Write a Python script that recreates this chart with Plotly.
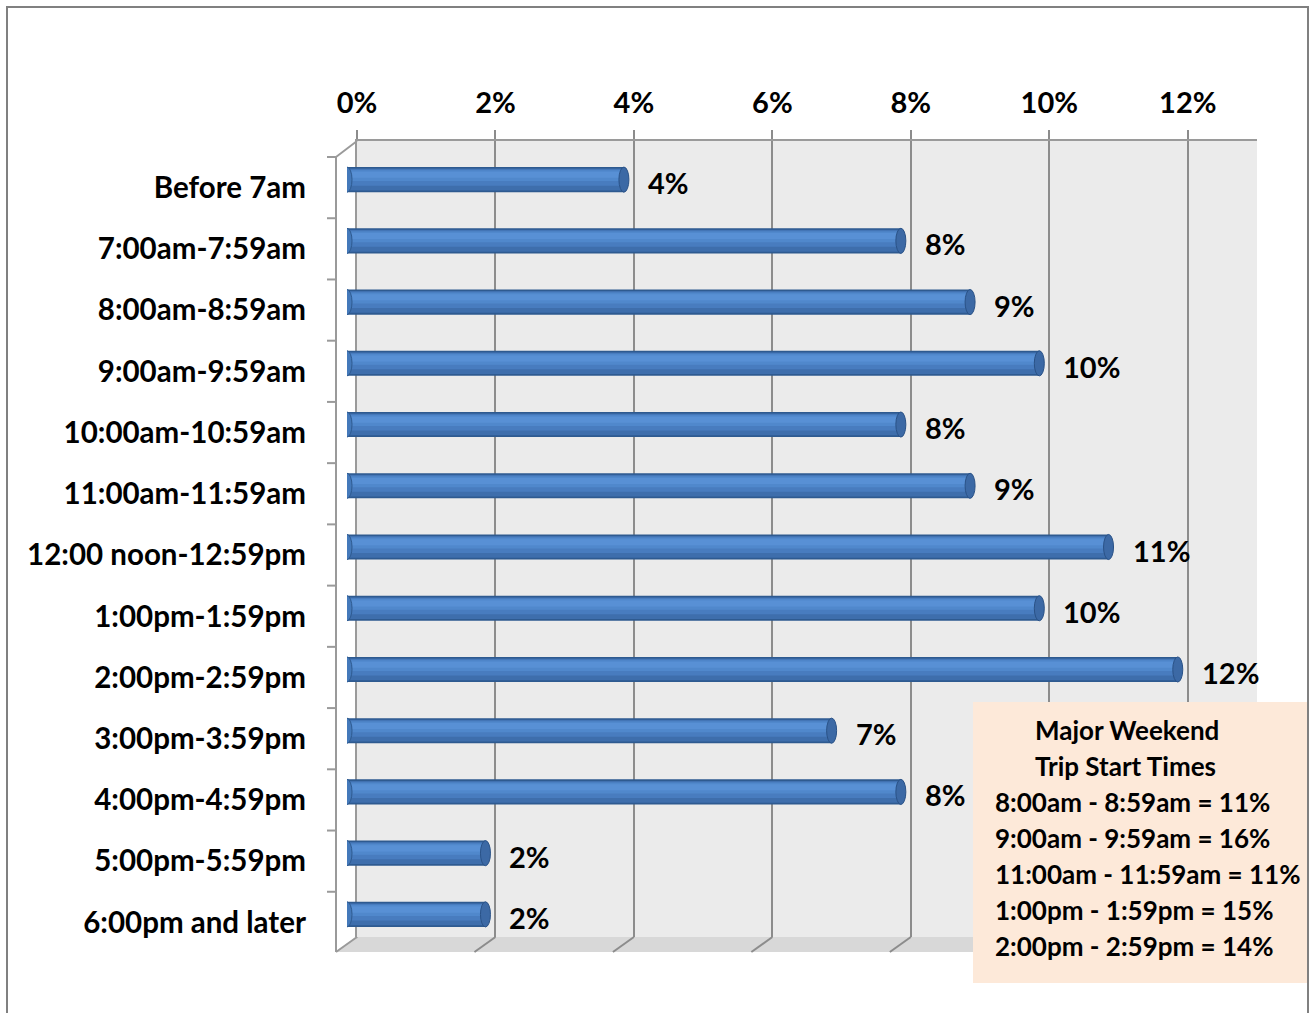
import plotly.graph_objects as go

# ---- data -------------------------------------------------------------
categories = [
    "Before 7am", "7:00am-7:59am", "8:00am-8:59am", "9:00am-9:59am",
    "10:00am-10:59am", "11:00am-11:59am", "12:00 noon-12:59pm",
    "1:00pm-1:59pm", "2:00pm-2:59pm", "3:00pm-3:59pm", "4:00pm-4:59pm",
    "5:00pm-5:59pm", "6:00pm and later",
]
shares = [4, 8, 9, 10, 8, 9, 11, 10, 12, 7, 8, 2, 2]
tick_values = [0, 2, 4, 6, 8, 10, 12]

note_title = ["Major Weekend", "Trip Start Times"]
note_lines = [
    "8:00am - 8:59am = 11%",
    "9:00am - 9:59am = 16%",
    "11:00am - 11:59am = 11%",
    "1:00pm - 1:59pm = 15%",
    "2:00pm - 2:59pm = 14%",
]

# ---- canvas geometry (pixels) ------------------------------------------
W, H = 1312, 1013
X_MAX = 13


def px(x):
    return x / W


def py(y):
    return 1 - y / H


# back wall, bar plane (mid depth) and front face of the 3-D box
BACK = dict(x0=357, x1=1257, y0=141, y1=937)
MID = dict(x0=347, x1=1247, y0=149, y1=945)
FRONT = dict(x0=336, x1=1236, y0=157, y1=952)
DX = FRONT["x0"] - BACK["x0"]
DY_FRONT = FRONT["y0"] - MID["y0"]

FONT = "Lato, Carlito, Calibri, sans-serif"
GRID = "#8C8C8C"
EDGE = "#9A9A9A"

fig = go.Figure()

# cylinder body built from overlapping bands, dark rim to light highlight
BAR_W = 0.41
bands = [
    (0.00, 1.00, "#2E5A90"),
    (0.06, 0.93, "#3E6EAC"),
    (0.09, 0.74, "#487CBF"),
    (0.13, 0.56, "#5088CC"),
    (0.19, 0.43, "#5890D5"),
]
for top, bot, col in bands:
    fig.add_trace(go.Bar(
        x=shares, y=categories, orientation="h",
        width=BAR_W * (bot - top), offset=-BAR_W / 2 + BAR_W * top,
        marker=dict(color=col, line=dict(width=0)),
        xaxis="x2", yaxis="y2", showlegend=False, hoverinfo="skip",
    ))

shapes = []
annotations = []

# back wall, floor
shapes.append(dict(type="rect", xref="paper", yref="paper", layer="below",
                   x0=px(BACK["x0"]), x1=px(BACK["x1"]),
                   y0=py(BACK["y1"]), y1=py(BACK["y0"]),
                   fillcolor="#EBEBEB", line=dict(width=0)))
shapes.append(dict(type="path", xref="paper", yref="paper", layer="below",
                   path=(f"M{px(BACK['x0'])},{py(BACK['y1'])} "
                         f"L{px(BACK['x1'])},{py(BACK['y1'])} "
                         f"L{px(FRONT['x1'])},{py(FRONT['y1'])} "
                         f"L{px(FRONT['x0'])},{py(FRONT['y1'])} Z"),
                   fillcolor="#D8D8D8", line=dict(width=0)))
# gridlines continuing across the floor
for v in tick_values:
    shapes.append(dict(type="line", xref="x", xsizemode="pixel", xanchor=v,
                       x0=0, x1=DX, yref="paper",
                       y0=py(BACK["y1"]), y1=py(FRONT["y1"]),
                       line=dict(color=GRID, width=2)))
# side wall edges
shapes.append(dict(type="line", xref="paper", yref="paper",
                   x0=px(FRONT["x0"]), y0=py(FRONT["y0"]),
                   x1=px(BACK["x0"]), y1=py(BACK["y0"]),
                   line=dict(color=EDGE, width=2)))
shapes.append(dict(type="line", xref="paper", yref="paper",
                   x0=px(FRONT["x0"]), y0=py(FRONT["y1"]),
                   x1=px(BACK["x0"]), y1=py(BACK["y1"]),
                   line=dict(color=EDGE, width=2)))
shapes.append(dict(type="line", xref="paper", yref="paper",
                   x0=px(FRONT["x0"]), y0=py(FRONT["y0"]),
                   x1=px(FRONT["x0"]), y1=py(FRONT["y1"]),
                   line=dict(color=EDGE, width=2)))
# category boundary ticks on the front edge
for i in range(len(categories) + 1):
    shapes.append(dict(type="line", xref="paper",
                       x0=px(FRONT["x0"] - 9), x1=px(FRONT["x0"]),
                       yref="y2", ysizemode="pixel", yanchor=i - 0.5,
                       y0=-DY_FRONT, y1=-DY_FRONT,
                       line=dict(color=EDGE, width=2)))

label_font = dict(family=FONT, size=29, color="black", weight="bold")
cat_font = dict(family=FONT, size=29.5, color="black", weight="bold")

# rounded cylinder ends and value labels
for i, v in enumerate(shares):
    shapes.append(dict(type="circle", layer="above",
                       xref="x2", xsizemode="pixel", xanchor=0, x0=-5, x1=5,
                       yref="y2", y0=i - BAR_W / 2, y1=i + BAR_W / 2,
                       fillcolor="#4479BA", line=dict(color="#2E5A90", width=1)))
    shapes.append(dict(type="circle", layer="above",
                       xref="x2", xsizemode="pixel", xanchor=v, x0=-5, x1=5,
                       yref="y2", y0=i - BAR_W / 2, y1=i + BAR_W / 2,
                       fillcolor="#3C69A5", line=dict(color="#2A5287", width=1)))
    annotations.append(dict(x=v, y=i, xref="x2", yref="y2", text=f"{v}%",
                            showarrow=False, xanchor="left", xshift=22, yshift=-3,
                            font=label_font))

# note box
note_font = dict(family=FONT, size=26, color="black", weight="bold")
shapes.append(dict(type="rect", xref="paper", yref="paper", layer="above",
                   x0=px(973), x1=px(1307), y0=py(983), y1=py(702),
                   fillcolor="#FDE9D9", line=dict(width=0)))
for k, t in enumerate(note_title):
    annotations.append(dict(x=px(1033), y=py(730 + 36 * k), xref="paper",
                            yref="paper", text=t, showarrow=False,
                            xanchor="left", yanchor="middle", font=note_font))
for k, t in enumerate(note_lines):
    annotations.append(dict(x=px(993), y=py(802 + 36 * k), xref="paper",
                            yref="paper", text=t, showarrow=False,
                            xanchor="left", yanchor="middle", font=note_font))

# outer frame
shapes.append(dict(type="rect", xref="paper", yref="paper", layer="above",
                   x0=px(7), x1=px(1308), y0=py(1030), y1=py(7),
                   line=dict(color="#808080", width=2), fillcolor="rgba(0,0,0,0)"))

fig.update_layout(
    template="none",
    width=W, height=H, autosize=False,
    margin=dict(l=0, r=0, t=0, b=0, pad=0),
    font=dict(family=FONT, color="black"),
    paper_bgcolor="white", plot_bgcolor="rgba(0,0,0,0)",
    barmode="overlay", showlegend=False,
    shapes=shapes, annotations=annotations,
    # back wall: percentage scale on top
    xaxis=dict(domain=[px(BACK["x0"]), px(BACK["x1"])], range=[0, X_MAX],
               anchor="y", side="top", tickvals=tick_values,
               ticktext=[f"{v}%" for v in tick_values], tickfont=label_font,
               showgrid=True, gridcolor=GRID, gridwidth=2, zeroline=False,
               ticks="outside", ticklen=9, tickwidth=2, tickcolor=GRID,
               showline=True, linecolor=EDGE, linewidth=2,
               ticklabelstandoff=5, automargin=False, fixedrange=True),
    yaxis=dict(domain=[py(BACK["y1"]), py(BACK["y0"])], range=[0, 1],
               anchor="x", showline=True, linecolor=EDGE, linewidth=2,
               showgrid=False, zeroline=False, showticklabels=False,
               ticks="", automargin=False, fixedrange=True),
    # bar plane; its category labels are nudged onto the front face
    xaxis2=dict(domain=[px(MID["x0"]), px(MID["x1"])], range=[0, X_MAX],
                anchor="y2", visible=False, automargin=False, fixedrange=True),
    yaxis2=dict(domain=[py(MID["y1"]), py(MID["y0"])], type="category",
                range=[len(categories) - 0.5, -0.5], anchor="x2",
                showline=False, showgrid=False, zeroline=False, ticks="",
                tickfont=cat_font, ticklabelstandoff=40,
                ticklabelshift=-DY_FRONT, automargin=False, fixedrange=True),
)

fig.write_html("out.html")
